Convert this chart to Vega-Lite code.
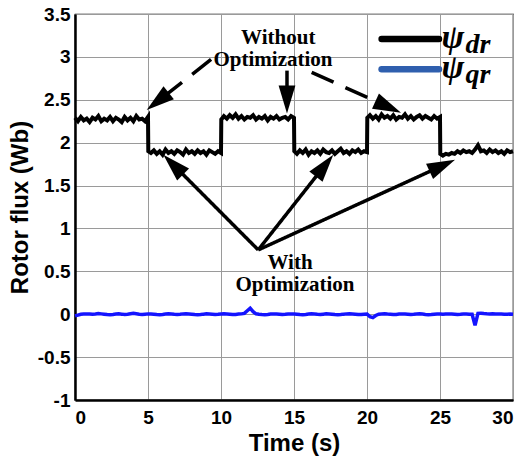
{
  "$schema": "https://vega.github.io/schema/vega-lite/v6.json",
  "width": 438,
  "height": 386,
  "autosize": {"type": "none"},
  "padding": {"left": 75, "top": 14, "right": 12, "bottom": 59},
  "background": "white",
  "config": {
    "view": {"stroke": "black", "strokeWidth": 1.2},
    "axis": {
      "grid": true, "gridColor": "#9a9a9a", "gridWidth": 1, "ticks": false,
      "domainColor": "black", "domainWidth": 2.5,
      "labelFont": "Liberation Sans", "labelFontWeight": "bold", "labelFontSize": 19, "labelColor": "black",
      "titleFont": "Liberation Sans", "titleFontWeight": "bold", "titleFontSize": 24, "titleColor": "black"
    }
  },
  "datasets": {
    "flux": [
      {"t":0,"dr":2.29,"qr":-0.02},{"t":0.2,"dr":2.25,"qr":-0.01},{"t":0.4,"dr":2.30,"qr":0},{"t":0.6,"dr":2.26,"qr":0.002},{"t":0.8,"dr":2.28,"qr":0.004},
      {"t":1.0,"dr":2.24,"qr":0.002},{"t":1.2,"dr":2.29,"qr":0},{"t":1.4,"dr":2.27,"qr":0.003},{"t":1.6,"dr":2.31,"qr":0.008},{"t":1.8,"dr":2.25,"qr":0.004},
      {"t":2.0,"dr":2.28,"qr":0},{"t":2.2,"dr":2.26,"qr":-0.004},{"t":2.4,"dr":2.30,"qr":-0.006},{"t":2.6,"dr":2.25,"qr":-0.003},{"t":2.8,"dr":2.29,"qr":0.002},
      {"t":3.0,"dr":2.27,"qr":0.004},{"t":3.2,"dr":2.24,"qr":0.001},{"t":3.4,"dr":2.30,"qr":-0.003},{"t":3.6,"dr":2.26,"qr":0},{"t":3.8,"dr":2.29,"qr":0.005},
      {"t":4.0,"dr":2.25,"qr":0.01},{"t":4.2,"dr":2.31,"qr":0.005},{"t":4.4,"dr":2.27,"qr":0},{"t":4.6,"dr":2.28,"qr":-0.002},{"t":4.8,"dr":2.25,"qr":0.001},
      {"t":5.0,"dr":2.30,"qr":0.004},{"t":5.02,"dr":1.90,"qr":0.004},
      {"t":5.2,"dr":1.88,"qr":0.002},{"t":5.4,"dr":1.91,"qr":0},{"t":5.6,"dr":1.87,"qr":-0.003},{"t":5.8,"dr":1.90,"qr":-0.005},{"t":6.0,"dr":1.86,"qr":-0.002},
      {"t":6.2,"dr":1.92,"qr":0.002},{"t":6.4,"dr":1.88,"qr":0.005},{"t":6.6,"dr":1.90,"qr":0.003},{"t":6.8,"dr":1.87,"qr":0},{"t":7.0,"dr":1.91,"qr":-0.002},
      {"t":7.2,"dr":1.89,"qr":0},{"t":7.4,"dr":1.86,"qr":0.004},{"t":7.6,"dr":1.92,"qr":0.006},{"t":7.8,"dr":1.88,"qr":0.003},{"t":8.0,"dr":1.90,"qr":0},
      {"t":8.2,"dr":1.87,"qr":-0.004},{"t":8.4,"dr":1.91,"qr":-0.006},{"t":8.6,"dr":1.88,"qr":-0.003},{"t":8.8,"dr":1.90,"qr":0.001},{"t":9.0,"dr":1.86,"qr":0.004},
      {"t":9.2,"dr":1.91,"qr":0.002},{"t":9.4,"dr":1.89,"qr":0},{"t":9.6,"dr":1.87,"qr":-0.002},{"t":9.8,"dr":1.90,"qr":0},{"t":10.0,"dr":1.88,"qr":0.003},
      {"t":10.02,"dr":2.27,"qr":0.003},
      {"t":10.2,"dr":2.31,"qr":0.005},{"t":10.4,"dr":2.28,"qr":0.003},{"t":10.6,"dr":2.32,"qr":0},{"t":10.8,"dr":2.29,"qr":-0.003},{"t":11.0,"dr":2.33,"qr":-0.002},
      {"t":11.2,"dr":2.28,"qr":0.002},{"t":11.4,"dr":2.31,"qr":0.004},{"t":11.6,"dr":2.27,"qr":0.01},{"t":11.8,"dr":2.30,"qr":0.04},{"t":12.0,"dr":2.29,"qr":0.07},
      {"t":12.2,"dr":2.32,"qr":0.03},{"t":12.4,"dr":2.27,"qr":0.005},{"t":12.6,"dr":2.30,"qr":0},{"t":12.8,"dr":2.28,"qr":-0.003},{"t":13.0,"dr":2.31,"qr":-0.005},
      {"t":13.2,"dr":2.26,"qr":-0.002},{"t":13.4,"dr":2.30,"qr":0.002},{"t":13.6,"dr":2.28,"qr":0.004},{"t":13.8,"dr":2.31,"qr":0.002},{"t":14.0,"dr":2.27,"qr":0},
      {"t":14.2,"dr":2.29,"qr":-0.003},{"t":14.4,"dr":2.30,"qr":-0.001},{"t":14.6,"dr":2.27,"qr":0.002},{"t":14.8,"dr":2.31,"qr":0.004},{"t":15.0,"dr":2.29,"qr":0.002},
      {"t":15.02,"dr":1.90,"qr":0.002},
      {"t":15.2,"dr":1.87,"qr":0},{"t":15.4,"dr":1.91,"qr":-0.003},{"t":15.6,"dr":1.88,"qr":-0.005},{"t":15.8,"dr":1.92,"qr":-0.002},{"t":16.0,"dr":1.86,"qr":0.002},
      {"t":16.2,"dr":1.90,"qr":0.005},{"t":16.4,"dr":1.88,"qr":0.003},{"t":16.6,"dr":1.91,"qr":0},{"t":16.8,"dr":1.87,"qr":-0.002},{"t":17.0,"dr":1.92,"qr":0.001},
      {"t":17.2,"dr":1.89,"qr":0.004},{"t":17.4,"dr":1.88,"qr":0.002},{"t":17.6,"dr":1.91,"qr":0},{"t":17.8,"dr":1.87,"qr":-0.004},{"t":18.0,"dr":1.90,"qr":-0.006},
      {"t":18.2,"dr":1.93,"qr":-0.003},{"t":18.4,"dr":1.88,"qr":0.001},{"t":18.6,"dr":1.90,"qr":0.004},{"t":18.8,"dr":1.87,"qr":0.006},{"t":19.0,"dr":1.91,"qr":0.003},
      {"t":19.2,"dr":1.89,"qr":0},{"t":19.4,"dr":1.92,"qr":-0.003},{"t":19.6,"dr":1.88,"qr":-0.002},{"t":19.8,"dr":1.90,"qr":0.001},{"t":20.0,"dr":1.89,"qr":0.003},
      {"t":20.02,"dr":2.29,"qr":0},
      {"t":20.2,"dr":2.32,"qr":-0.03},{"t":20.4,"dr":2.28,"qr":-0.04},{"t":20.6,"dr":2.31,"qr":-0.015},{"t":20.8,"dr":2.27,"qr":0},{"t":21.0,"dr":2.33,"qr":0.003},
      {"t":21.2,"dr":2.29,"qr":0.005},{"t":21.4,"dr":2.31,"qr":0.002},{"t":21.6,"dr":2.28,"qr":0},{"t":21.8,"dr":2.32,"qr":-0.003},{"t":22.0,"dr":2.27,"qr":-0.002},
      {"t":22.2,"dr":2.30,"qr":0.002},{"t":22.4,"dr":2.29,"qr":0.004},{"t":22.6,"dr":2.33,"qr":0.002},{"t":22.8,"dr":2.28,"qr":0},{"t":23.0,"dr":2.31,"qr":-0.002},
      {"t":23.2,"dr":2.27,"qr":0},{"t":23.4,"dr":2.30,"qr":0.003},{"t":23.6,"dr":2.32,"qr":0.005},{"t":23.8,"dr":2.28,"qr":0.002},{"t":24.0,"dr":2.31,"qr":-0.002},
      {"t":24.2,"dr":2.29,"qr":-0.005},{"t":24.4,"dr":2.27,"qr":-0.003},{"t":24.6,"dr":2.31,"qr":0},{"t":24.8,"dr":2.28,"qr":0.003},{"t":25.0,"dr":2.30,"qr":0.002},
      {"t":25.02,"dr":1.87,"qr":0.002},
      {"t":25.2,"dr":1.85,"qr":0},{"t":25.4,"dr":1.87,"qr":0.002},{"t":25.6,"dr":1.86,"qr":0.004},{"t":25.8,"dr":1.88,"qr":0.002},{"t":26.0,"dr":1.87,"qr":0},
      {"t":26.2,"dr":1.90,"qr":-0.002},{"t":26.4,"dr":1.88,"qr":0},{"t":26.6,"dr":1.91,"qr":0.003},{"t":26.8,"dr":1.89,"qr":0.002},{"t":27.0,"dr":1.90,"qr":0},
      {"t":27.2,"dr":1.88,"qr":0},{"t":27.4,"dr":1.92,"qr":-0.13},{"t":27.6,"dr":1.97,"qr":0.01},{"t":27.8,"dr":1.90,"qr":0.012},{"t":28.0,"dr":1.91,"qr":0.008},
      {"t":28.2,"dr":1.88,"qr":0.005},{"t":28.4,"dr":1.92,"qr":0.004},{"t":28.6,"dr":1.89,"qr":0.006},{"t":28.8,"dr":1.91,"qr":0.003},{"t":29.0,"dr":1.88,"qr":0.002},
      {"t":29.2,"dr":1.90,"qr":0.003},{"t":29.4,"dr":1.87,"qr":0.001},{"t":29.6,"dr":1.91,"qr":0},{"t":29.8,"dr":1.89,"qr":0.002},{"t":30.0,"dr":1.90,"qr":0}
    ],
    "arrows": [
      {"x1":9.32,"y1":2.97,"x2":4.91,"y2":2.38,"k":"without"},
      {"x1":14.52,"y1":2.84,"x2":14.52,"y2":2.34,"k":"without"},
      {"x1":16.21,"y1":2.82,"x2":22.33,"y2":2.35,"k":"without"},
      {"x1":12.55,"y1":0.75,"x2":6.05,"y2":1.86,"k":"with"},
      {"x1":12.55,"y1":0.75,"x2":17.69,"y2":1.86,"k":"with"},
      {"x1":12.55,"y1":0.75,"x2":26.03,"y2":1.80,"k":"with"}
    ],
    "notes": [
      {"x":13.92,"y":3.22,"txt":"Without"},
      {"x":13.56,"y":2.96,"txt":"Optimization"},
      {"x":14.73,"y":0.60,"txt":"With"},
      {"x":15.07,"y":0.34,"txt":"Optimization"}
    ],
    "legendLines": [
      {"x":21.0,"x2":24.93,"y":3.209,"s":"dr"},
      {"x":21.0,"x2":24.93,"y":2.855,"s":"qr"}
    ],
    "legendPsi": [
      {"x":25.11,"y":3.104,"txt":"ψ"},
      {"x":25.11,"y":2.754,"txt":"ψ"}
    ],
    "legendSub": [
      {"x":26.75,"y":3.045,"txt":"dr"},
      {"x":26.75,"y":2.696,"txt":"qr"}
    ]
  },
  "layer": [
    {
      "data": {"name": "flux"},
      "mark": {"type": "line", "color": "black", "strokeWidth": 4},
      "encoding": {
        "x": {"field": "t", "type": "quantitative", "title": "Time (s)",
              "scale": {"domain": [0, 30], "nice": false, "zero": false},
              "axis": {"values": [0,5,10,15,20,25,30], "labelPadding": 8, "titleY": 50, "titleBaseline": "alphabetic"}},
        "y": {"field": "dr", "type": "quantitative", "title": "Rotor flux (Wb)",
              "scale": {"domain": [-1, 3.5], "nice": false, "zero": false},
              "axis": {"values": [-1,-0.5,0,0.5,1,1.5,2,2.5,3,3.5], "labelExpr": "'' + datum.value", "labelPadding": 5, "titleX": -55, "titleY": 193, "titleBaseline": "middle"}}
      }
    },
    {
      "data": {"name": "flux"},
      "mark": {"type": "line", "color": "#1414ff", "strokeWidth": 3.5},
      "encoding": {
        "x": {"field": "t", "type": "quantitative", "title": "Time (s)", "scale": {"domain": [0, 30], "nice": false, "zero": false}},
        "y": {"field": "qr", "type": "quantitative", "title": "Rotor flux (Wb)", "scale": {"domain": [-1, 3.5], "nice": false, "zero": false}}
      }
    },
    {
      "data": {"name": "arrows"},
      "transform": [
        {"calculate": "(datum.x2 - datum.x1) * 14.6", "as": "dxp"},
        {"calculate": "(datum.y2 - datum.y1) * 85.78", "as": "dyp"},
        {"calculate": "sqrt(datum.dxp * datum.dxp + datum.dyp * datum.dyp)", "as": "L"},
        {"calculate": "atan2(datum.dxp, datum.dyp) * 180 / PI", "as": "ang"},
        {"calculate": "datum.x2 - 14 * datum.dxp / datum.L / 14.6", "as": "cx"},
        {"calculate": "datum.y2 - 14 * datum.dyp / datum.L / 85.78", "as": "cy"}
      ],
      "layer": [
        {
          "mark": {"type": "rule", "color": "black", "strokeWidth": 3.5, "strokeCap": "butt"},
          "encoding": {
            "x": {"field": "x1", "type": "quantitative", "title": "Time (s)", "scale": {"domain": [0, 30], "nice": false, "zero": false}},
            "y": {"field": "y1", "type": "quantitative", "title": "Rotor flux (Wb)", "scale": {"domain": [-1, 3.5], "nice": false, "zero": false}},
            "x2": {"field": "cx"},
            "y2": {"field": "cy"},
            "strokeDash": {"field": "k", "type": "nominal", "scale": {"domain": ["without", "with"], "range": [[24, 13], [1, 0]]}, "legend": null}
          }
        },
        {
          "mark": {"type": "point", "shape": "M0,-1L0.6,1L-0.6,1Z", "filled": true, "color": "black", "opacity": 1, "size": 784, "strokeWidth": 0},
          "encoding": {
            "x": {"field": "cx", "type": "quantitative", "title": "Time (s)", "scale": {"domain": [0, 30], "nice": false, "zero": false}},
            "y": {"field": "cy", "type": "quantitative", "title": "Rotor flux (Wb)", "scale": {"domain": [-1, 3.5], "nice": false, "zero": false}},
            "angle": {"field": "ang", "type": "quantitative", "scale": null}
          }
        }
      ]
    },
    {
      "data": {"name": "notes"},
      "mark": {"type": "text", "font": "Liberation Serif", "fontWeight": "bold", "fontSize": 21, "align": "center", "baseline": "middle", "color": "black"},
      "encoding": {
        "x": {"field": "x", "type": "quantitative", "title": "Time (s)", "scale": {"domain": [0, 30], "nice": false, "zero": false}},
        "y": {"field": "y", "type": "quantitative", "title": "Rotor flux (Wb)", "scale": {"domain": [-1, 3.5], "nice": false, "zero": false}},
        "text": {"field": "txt"}
      }
    },
    {
      "data": {"name": "legendLines"},
      "mark": {"type": "rule", "strokeWidth": 6.5, "strokeCap": "round"},
      "encoding": {
        "x": {"field": "x", "type": "quantitative", "title": "Time (s)", "scale": {"domain": [0, 30], "nice": false, "zero": false}},
        "x2": {"field": "x2"},
        "y": {"field": "y", "type": "quantitative", "title": "Rotor flux (Wb)", "scale": {"domain": [-1, 3.5], "nice": false, "zero": false}},
        "color": {"field": "s", "type": "nominal", "scale": {"domain": ["dr", "qr"], "range": ["black", "#2f5fae"]}, "legend": null}
      }
    },
    {
      "data": {"name": "legendPsi"},
      "mark": {"type": "text", "font": "Liberation Serif", "fontWeight": "bold", "fontStyle": "italic", "fontSize": 34, "align": "left", "baseline": "alphabetic", "color": "black"},
      "encoding": {
        "x": {"field": "x", "type": "quantitative", "title": "Time (s)", "scale": {"domain": [0, 30], "nice": false, "zero": false}},
        "y": {"field": "y", "type": "quantitative", "title": "Rotor flux (Wb)", "scale": {"domain": [-1, 3.5], "nice": false, "zero": false}},
        "text": {"field": "txt"}
      }
    },
    {
      "data": {"name": "legendSub"},
      "mark": {"type": "text", "font": "Liberation Serif", "fontWeight": "bold", "fontStyle": "italic", "fontSize": 28, "align": "left", "baseline": "alphabetic", "color": "black"},
      "encoding": {
        "x": {"field": "x", "type": "quantitative", "title": "Time (s)", "scale": {"domain": [0, 30], "nice": false, "zero": false}},
        "y": {"field": "y", "type": "quantitative", "title": "Rotor flux (Wb)", "scale": {"domain": [-1, 3.5], "nice": false, "zero": false}},
        "text": {"field": "txt"}
      }
    }
  ]
}
